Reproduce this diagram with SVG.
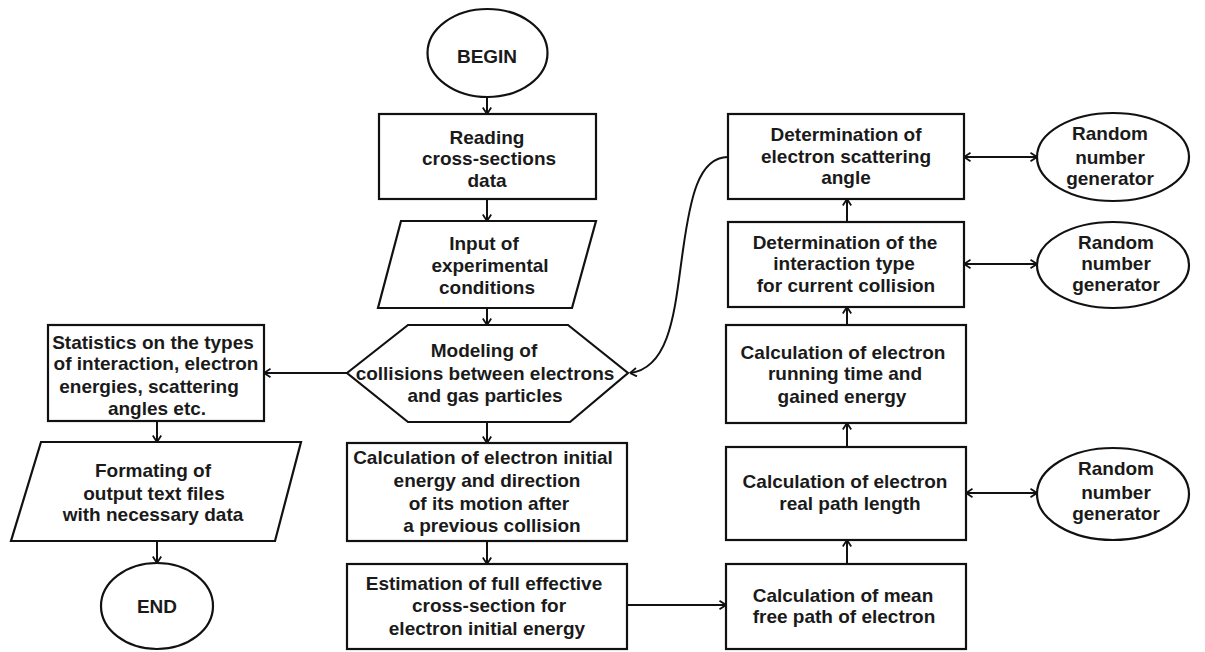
<svg xmlns="http://www.w3.org/2000/svg" width="1205" height="652" viewBox="0 0 1205 652">
<style>
  .shape { fill: #ffffff; stroke: #111111; stroke-width: 2.2; }
  .conn { fill: none; stroke: #111111; stroke-width: 2; }
  .lbl { font-family: "Liberation Sans", Arial, sans-serif; font-size: 19px; font-weight: bold; fill: #1a1a1a; text-anchor: middle; }
</style>
<defs>
  <marker id="arr" viewBox="0 0 10 10" refX="9.5" refY="5" markerWidth="10" markerHeight="10" markerUnits="userSpaceOnUse" orient="auto-start-reverse">
    <path d="M3,0.8 L9.5,5 L3,9.2" fill="none" stroke="#111111" stroke-width="1.8"/>
  </marker>
</defs>
<rect x="0" y="0" width="1205" height="652" fill="#ffffff"/>

<g id="connectors">
  <line class="conn" x1="487" y1="97" x2="487" y2="114" marker-end="url(#arr)"/>
  <line class="conn" x1="487" y1="199" x2="487" y2="221" marker-end="url(#arr)"/>
  <line class="conn" x1="487" y1="308" x2="487" y2="325" marker-end="url(#arr)"/>
  <line class="conn" x1="487" y1="422" x2="487" y2="443" marker-end="url(#arr)"/>
  <line class="conn" x1="487" y1="541" x2="487" y2="564" marker-end="url(#arr)"/>
  <line class="conn" x1="627" y1="605" x2="726" y2="605" marker-end="url(#arr)"/>
  <line class="conn" x1="347" y1="373" x2="264" y2="373" marker-end="url(#arr)"/>
  <line class="conn" x1="157" y1="421" x2="157" y2="442" marker-end="url(#arr)"/>
  <line class="conn" x1="157" y1="541" x2="157" y2="563" marker-end="url(#arr)"/>
  <line class="conn" x1="847" y1="564" x2="847" y2="540" marker-end="url(#arr)"/>
  <line class="conn" x1="847" y1="447" x2="847" y2="423" marker-end="url(#arr)"/>
  <line class="conn" x1="847" y1="325" x2="847" y2="307" marker-end="url(#arr)"/>
  <line class="conn" x1="847" y1="222" x2="847" y2="199" marker-end="url(#arr)"/>
  <line class="conn" x1="964" y1="157" x2="1037" y2="157" marker-start="url(#arr)" marker-end="url(#arr)"/>
  <line class="conn" x1="964" y1="264" x2="1037" y2="264" marker-start="url(#arr)" marker-end="url(#arr)"/>
  <line class="conn" x1="966" y1="493" x2="1037" y2="493" marker-start="url(#arr)" marker-end="url(#arr)"/>
  <path class="conn" d="M728,157 C698,157 690,200 683,250 C675,305 672,368 630,373" marker-end="url(#arr)"/>
</g>

<g id="begin">
  <ellipse class="shape" cx="487.5" cy="53" rx="60" ry="44"/>
  <text class="lbl" x="487" y="63">BEGIN</text>
</g>

<g id="reading">
  <rect class="shape" x="379" y="114" width="217" height="85"/>
  <text class="lbl" x="487" y="144">Reading</text>
  <text class="lbl" x="489" y="165">cross-sections</text>
  <text class="lbl" x="487" y="187">data</text>
</g>

<g id="input">
  <polygon class="shape" points="401,221 596,221 572,308 378,308"/>
  <text class="lbl" x="484" y="250">Input of</text>
  <text class="lbl" x="490" y="272">experimental</text>
  <text class="lbl" x="487" y="294">conditions</text>
</g>

<g id="modeling">
  <polygon class="shape" points="347,373 408,325 568,325 628,373 570,422 408,422"/>
  <text class="lbl" x="484" y="357">Modeling of</text>
  <text class="lbl" x="485" y="380">collisions between electrons</text>
  <text class="lbl" x="485" y="402">and gas particles</text>
</g>

<g id="calc-initial">
  <rect class="shape" x="347" y="443" width="280" height="98"/>
  <text class="lbl" x="483" y="464">Calculation of electron initial</text>
  <text class="lbl" x="487" y="487">energy and direction</text>
  <text class="lbl" x="489" y="510">of its motion after</text>
  <text class="lbl" x="492" y="532">a previous collision</text>
</g>

<g id="estimation">
  <rect class="shape" x="347" y="564" width="280" height="85"/>
  <text class="lbl" x="484" y="590">Estimation of full effective</text>
  <text class="lbl" x="489" y="612">cross-section for</text>
  <text class="lbl" x="487" y="635">electron initial energy</text>
</g>

<g id="statistics">
  <rect class="shape" x="48" y="325" width="216" height="96"/>
  <text class="lbl" x="153" y="349">Statistics on the types</text>
  <text class="lbl" x="156" y="370">of interaction, electron</text>
  <text class="lbl" x="149" y="393">energies, scattering</text>
  <text class="lbl" x="157" y="415">angles etc.</text>
</g>

<g id="formating">
  <polygon class="shape" points="41,442 301,442 275,541 11,541"/>
  <text class="lbl" x="153" y="477">Formating of</text>
  <text class="lbl" x="154" y="500">output text files</text>
  <text class="lbl" x="153" y="521">with necessary data</text>
</g>

<g id="end">
  <ellipse class="shape" cx="157" cy="606" rx="56" ry="43"/>
  <text class="lbl" x="157" y="613">END</text>
</g>

<g id="scattering">
  <rect class="shape" x="728" y="114" width="236" height="85"/>
  <text class="lbl" x="846" y="141">Determination of</text>
  <text class="lbl" x="846" y="163">electron scattering</text>
  <text class="lbl" x="846" y="184">angle</text>
</g>

<g id="interaction">
  <rect class="shape" x="728" y="222" width="236" height="85"/>
  <text class="lbl" x="845" y="249">Determination of the</text>
  <text class="lbl" x="844" y="270">interaction type</text>
  <text class="lbl" x="846" y="292">for current collision</text>
</g>

<g id="running">
  <rect class="shape" x="726" y="325" width="240" height="98"/>
  <text class="lbl" x="843" y="359">Calculation of electron</text>
  <text class="lbl" x="845" y="380">running time and</text>
  <text class="lbl" x="842" y="403">gained energy</text>
</g>

<g id="realpath">
  <rect class="shape" x="726" y="447" width="240" height="93"/>
  <text class="lbl" x="845" y="488">Calculation of electron</text>
  <text class="lbl" x="850" y="510">real path length</text>
</g>

<g id="meanfree">
  <rect class="shape" x="726" y="564" width="240" height="85"/>
  <text class="lbl" x="843" y="602">Calculation of mean</text>
  <text class="lbl" x="844" y="623">free path of electron</text>
</g>

<g id="random1">
  <ellipse class="shape" cx="1113" cy="157" rx="76" ry="44"/>
  <text class="lbl" x="1110" y="140">Random</text>
  <text class="lbl" x="1110" y="164">number</text>
  <text class="lbl" x="1110" y="185">generator</text>
</g>

<g id="random2">
  <ellipse class="shape" cx="1113" cy="265" rx="76" ry="43"/>
  <text class="lbl" x="1116" y="249">Random</text>
  <text class="lbl" x="1116" y="270">number</text>
  <text class="lbl" x="1116" y="291">generator</text>
</g>

<g id="random3">
  <ellipse class="shape" cx="1113" cy="494" rx="76" ry="46"/>
  <text class="lbl" x="1116" y="475">Random</text>
  <text class="lbl" x="1116" y="499">number</text>
  <text class="lbl" x="1116" y="520">generator</text>
</g>
</svg>
